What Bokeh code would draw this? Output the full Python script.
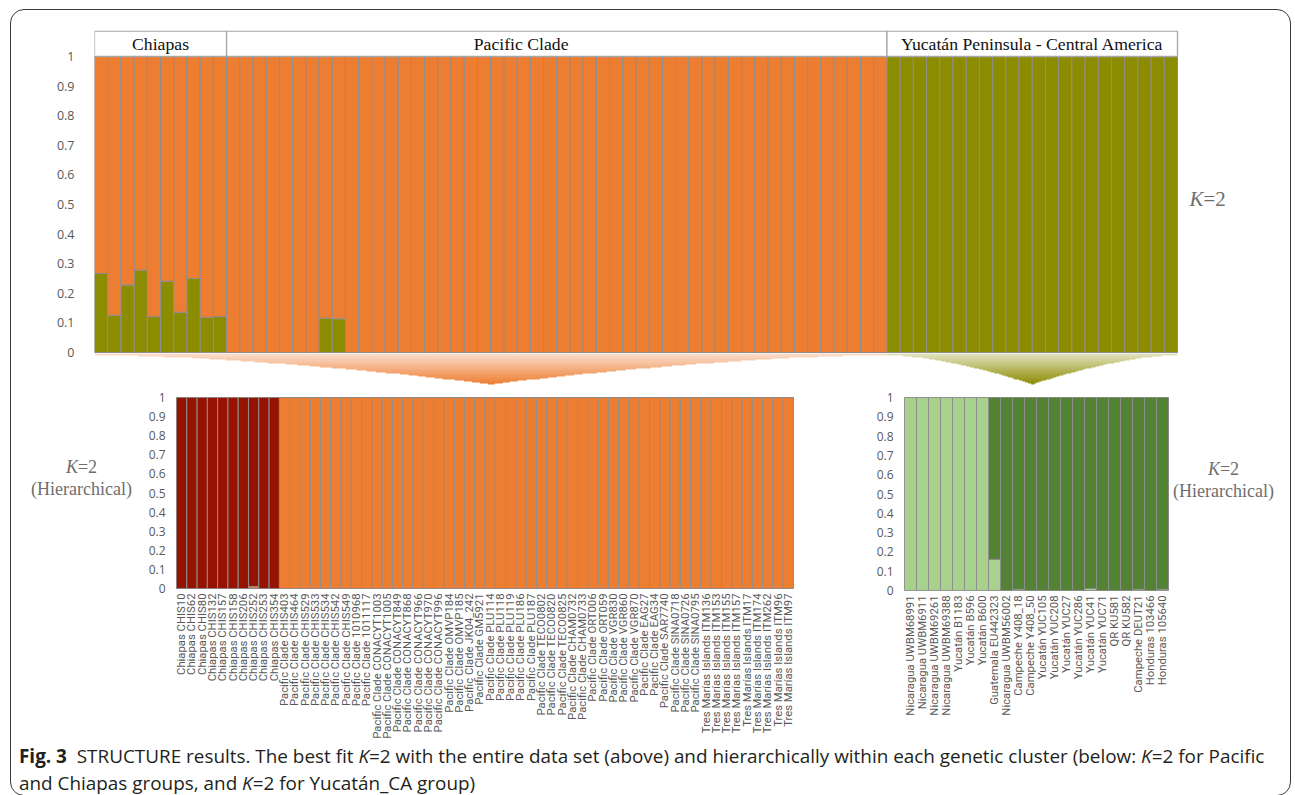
import numpy as np
from bokeh.plotting import figure
from bokeh.models import Range1d, FactorRange, FixedTicker, ColumnDataSource, Div, InlineStyleSheet
from bokeh.layouts import column, row
from bokeh.core.properties import value
from bokeh.embed import file_html
from bokeh.resources import INLINE

# ---------------- data ----------------
groups = ["Chiapas", "Pacific Clade", "Yucatán Peninsula - Central America"]
group_sizes = [10, 50, 22]
group_label_pos = [5.0, 32.3, 71.0]

top_green_chiapas = [0.267, 0.125, 0.228, 0.278, 0.121, 0.241, 0.136, 0.25, 0.119, 0.121]
top_green_pacific = [0, 0, 0, 0, 0, 0, 0, 0.116, 0.114, 0,
                     0, 0, 0, 0, 0, 0, 0, 0, 0, 0,
                     0, 0, 0, 0, 0, 0, 0, 0, 0, 0,
                     0, 0, 0, 0, 0, 0, 0, 0, 0, 0,
                     0, 0, 0, 0, 0, 0, 0, 0, 0, 0]
top_green_yucatan = [1, 1, 1, 1, 1, 1, 1, 1, 1, 1, 1,
                     1, 1, 1, 1, 1, 1, 1, 1, 1, 1, 1]

bl_labels = ["Chiapas CHIS10", "Chiapas CHIS62", "Chiapas CHIS80", "Chiapas CHIS132",
             "Chiapas CHIS157", "Chiapas CHIS158", "Chiapas CHIS206", "Chiapas CHIS252",
             "Chiapas CHIS253", "Chiapas CHIS354",
             "Pacific Clade CHIS403", "Pacific Clade CHIS464", "Pacific Clade CHIS529",
             "Pacific Clade CHIS533", "Pacific Clade CHIS534", "Pacific Clade CHIS542",
             "Pacific Clade CHIS549", "Pacific Clade 1010968", "Pacific Clade 1011117",
             "Pacific Clade CONACYT1003", "Pacific Clade CONACYT1005", "Pacific Clade CONACYT849",
             "Pacific Clade CONACYT868", "Pacific Clade CONACYT966", "Pacific Clade CONACYT970",
             "Pacific Clade CONACYT996", "Pacific Clade OMVP184", "Pacific Clade OMVP185",
             "Pacific Clade JK04_242", "Pacific Clade GM5921", "Pacific Clade PLU114",
             "Pacific Clade PLU118", "Pacific Clade PLU119", "Pacific Clade PLU186",
             "Pacific Clade PLU187", "Pacific Clade TECO0802", "Pacific Clade TECO0820",
             "Pacific Clade TECO0825", "Pacific Clade CHAM0732", "Pacific Clade CHAM0733",
             "Pacific Clade ORT006", "Pacific Clade ORT059", "Pacific Clade VGR830",
             "Pacific Clade VGR860", "Pacific Clade VGR870", "Pacific Clade EAG27",
             "Pacific Clade EAG34", "Pacific Clade SAR7740", "Pacific Clade SINA0718",
             "Pacific Clade SINA0726", "Pacific Clade SINA0795",
             "Tres Marías Islands ITM136", "Tres Marías Islands ITM153", "Tres Marías Islands ITM155",
             "Tres Marías Islands ITM157", "Tres Marías Islands ITM17", "Tres Marías Islands ITM174",
             "Tres Marías Islands ITM262", "Tres Marías Islands ITM96", "Tres Marías Islands ITM97"]
bl_orange = [0, 0, 0, 0, 0, 0, 0, 0.01, 0, 0,
             1, 1, 1, 1, 1, 1, 1, 1, 1, 1,
             1, 1, 1, 1, 1, 1, 1, 1, 1, 1,
             1, 1, 1, 1, 1, 1, 1, 1, 1, 1,
             1, 1, 1, 1, 1, 1, 1, 1, 1, 1,
             1, 1, 1, 1, 1, 1, 1, 1, 1, 1]

br_labels = ["Nicaragua UWBM68991", "Nicaragua UWBM6911", "Nicaragua UWBM69261",
             "Nicaragua UWBM69388", "Yucatán B1183", "Yucatán B596", "Yucatán B600",
             "Guatemala EU442323", "Nicaragua UWBM56002", "Campeche Y408_18",
             "Campeche Y408_50", "Yucatán YUC105", "Yucatán YUC208", "Yucatán YUC27",
             "Yucatán YUC286", "Yucatán YUC41", "Yucatán YUC71", "QR KU581", "QR KU582",
             "Campeche DEUT21", "Honduras 103466", "Honduras 105640"]
br_light = [1, 1, 1, 1, 1, 1, 1, 0.161, 0, 0.006, 0, 0, 0, 0, 0, 0.01, 0, 0, 0, 0.006, 0, 0.006]

tick_labels = ["0", "0.1", "0.2", "0.3", "0.4", "0.5", "0.6", "0.7", "0.8", "0.9", "1"]

# ---------------- styles ----------------
ORANGE = "#ED7D31"
OLIVE = "#8C8C00"
DARKRED = "#951300"
LIGHTGREEN = "#A9D18E"
DARKGREEN = "#548235"
BAR_LINE = "#8E8E8E"
TICK_COLOR = "#595959"
TICK_FONT = "Open Sans"
SERIF = "Liberation Serif"
ticks = [float(t) for t in tick_labels]
overrides = {float(t): t for t in tick_labels}

# ---------------- top chart ----------------
top_green = top_green_chiapas + top_green_pacific + top_green_yucatan
n_top = len(top_green)
top_src = ColumnDataSource(dict(
    x=np.arange(n_top) + 0.5,
    green=top_green,
    orange=[1 - g for g in top_green],
))

px_per_bar = 1083 / n_top
frame_w = 1190
frame_h = 356
unit_h = 296
y_top = 1 + 26 / unit_h
y_bot = -(frame_h - 26 - unit_h) / unit_h

p = figure(width=83 + frame_w + 4, height=20 + frame_h,
           frame_width=frame_w, frame_height=frame_h,
           x_range=Range1d(0, frame_w / px_per_bar), y_range=Range1d(y_bot, y_top),
           x_axis_type=None, output_backend="svg", toolbar_location=None,
           min_border_left=83, min_border_right=4, min_border_top=20, min_border_bottom=0)
p.border_fill_color = None
p.outline_line_color = None
p.grid.grid_line_color = None
p.yaxis.ticker = FixedTicker(ticks=ticks)
p.yaxis.major_label_overrides = overrides
p.yaxis.axis_line_color = None
p.yaxis.major_tick_line_color = None
p.yaxis.minor_tick_line_color = None
p.yaxis.major_tick_out = 0
p.yaxis.major_tick_in = 0
p.yaxis.major_label_standoff = 20
p.yaxis.major_label_text_font = TICK_FONT
p.yaxis.major_label_text_font_size = "12.5px"
p.yaxis.major_label_text_color = TICK_COLOR

p.vbar_stack(["green", "orange"], x="x", width=1.0, source=top_src,
             fill_color=[OLIVE, ORANGE], line_color=BAR_LINE, line_width=1)

# header band
starts = np.cumsum([0] + group_sizes[:-1])
ends = np.cumsum(group_sizes)
p.quad(left=starts, right=ends, bottom=1.0, top=y_top - 0.002,
       fill_color="white", line_color="#A6A6A6", line_width=1.3)
p.text(x=group_label_pos, y=[1 + 13 / unit_h] * 3, text=groups,
       text_font=value(SERIF), text_font_size="17.7px", text_color="#111111",
       text_align="center", text_baseline="middle")

# K=2 label
kx = (1190 - 95) / px_per_bar
p.text(x=[kx], y=[0.52], text=["K"], text_font=value(SERIF), text_font_style="italic",
       text_font_size="21px", text_color="#6E6E6E", text_baseline="middle")
p.text(x=[kx + 14 / px_per_bar], y=[0.52], text=["=2"], text_font=value(SERIF),
       text_font_size="21px", text_color="#6E6E6E", text_baseline="middle")

# gradient wedges linking top chart to the hierarchical charts
def wedge(x0, x1, depth, rgb, nx=700, ny=70):
    xt = (x0 + x1) / 2
    xs = np.linspace(x0, x1, nx)
    ys = np.linspace(-depth, 0, ny)
    X, Y = np.meshgrid(xs, ys)
    hw = np.where(X < xt, xt - x0, x1 - xt)
    f = np.clip(1 - np.abs(X - xt) / hw, 0, 1) ** 1.6
    bound = -0.008 - (depth - 0.008) * f
    inside = (Y >= bound) & (Y <= -0.004)
    t = np.clip(-Y / depth, 0, 1)
    alpha = (0.22 + 0.78 * t) * inside
    img = np.zeros((ny, nx), dtype=np.uint32)
    view = img.view(dtype=np.uint8).reshape((ny, nx, 4))
    view[..., 0] = rgb[0]
    view[..., 1] = rgb[1]
    view[..., 2] = rgb[2]
    view[..., 3] = (alpha * 255).astype(np.uint8)
    return img

depth = 32 / unit_h
p.image_rgba(image=[wedge(0, 60, depth, (237, 125, 49))], x=0, y=-depth, dw=60, dh=depth)
p.image_rgba(image=[wedge(60, 82, depth, (139, 139, 0))], x=60, y=-depth, dw=22, dh=depth)

# ---------------- bottom-left chart ----------------
bl_src = ColumnDataSource(dict(label=bl_labels, orange=bl_orange,
                               red=[1 - v for v in bl_orange]))
bl = figure(x_range=FactorRange(factors=bl_labels), y_range=Range1d(0, 1),
            frame_width=617, frame_height=191, width=30 + 617 + 80, height=11 + 191 + 145,
            min_border_left=30, min_border_right=80, min_border_top=11, min_border_bottom=145,
            output_backend="svg", toolbar_location=None)
bl.vbar_stack(["orange", "red"], x="label", width=1.0, source=bl_src,
              fill_color=[ORANGE, DARKRED], line_color=BAR_LINE, line_width=1)

# ---------------- bottom-right chart ----------------
br_src = ColumnDataSource(dict(label=br_labels, light=br_light,
                               dark=[1 - v for v in br_light]))
br = figure(x_range=FactorRange(factors=br_labels), y_range=Range1d(0, 1),
            frame_width=264, frame_height=193, width=30 + 264 + 5, height=11 + 193 + 143,
            min_border_left=30, min_border_right=5, min_border_top=11, min_border_bottom=143,
            output_backend="svg", toolbar_location=None)
br.vbar_stack(["light", "dark"], x="label", width=1.0, source=br_src,
              fill_color=[LIGHTGREEN, DARKGREEN], line_color=BAR_LINE, line_width=1)

for f in (bl, br):
    f.border_fill_color = None
    f.outline_line_color = BAR_LINE
    f.grid.grid_line_color = None
    f.yaxis.ticker = FixedTicker(ticks=ticks)
    f.yaxis.major_label_overrides = overrides
    f.yaxis.axis_line_color = None
    f.yaxis.major_tick_line_color = None
    f.yaxis.minor_tick_line_color = None
    f.yaxis.major_tick_out = 0
    f.yaxis.major_tick_in = 0
    f.yaxis.major_label_standoff = 11
    f.yaxis.major_label_text_font = TICK_FONT
    f.yaxis.major_label_text_font_size = "12px"
    f.yaxis.major_label_text_color = TICK_COLOR
    f.xaxis.axis_line_color = None
    f.xaxis.major_tick_line_color = None
    f.xaxis.major_tick_out = 0
    f.xaxis.major_tick_in = 0
    f.xaxis.major_label_orientation = np.pi / 2
    f.xaxis.major_label_standoff = 5
    f.xaxis.major_label_text_font = "Roboto"
    f.xaxis.major_label_text_font_size = "11.3px"
    f.xaxis.major_label_text_color = TICK_COLOR

lbl_css = (f"font-family:'{SERIF}'; font-size:18px; line-height:22px; color:#6E6E6E; "
           "text-align:center;")
left_div = Div(text=f"<div style=\"{lbl_css} padding-top:70px; padding-left:20px;\">"
                    "<i>K</i>=2<br>(Hierarchical)</div>", width=134, height=347, margin=0)
right_div = Div(text=f"<div style=\"{lbl_css} padding-top:72px;\">"
                     "<i>K</i>=2<br>(Hierarchical)</div>", width=117, height=347, margin=0)

cap_css = ("font-family:'Open Sans'; font-size:18.9px; line-height:27px; color:#231F20; "
           "padding-left:8px; padding-top:2px; white-space:nowrap;")
caption = Div(
    text=(f"<div style=\"{cap_css}\"><b>Fig. 3</b>&nbsp;&nbsp;STRUCTURE results. The best fit "
          "<i>K</i>=2 with the entire data set (above) and hierarchically within each genetic "
          "cluster (below: <i>K</i>=2 for Pacific<br>"
          "and Chiapas groups, and <i>K</i>=2 for Yucatán_CA group)</div>"),
    width=1270, height=54, margin=0)

frame_css = InlineStyleSheet(css=":host { margin-left: 10px; margin-top: 9px; "
                                 "border: 1.6px solid #3A3A3A; border-radius: 14px; }")
layout = column(p, row(left_div, bl, br, right_div), caption, stylesheets=[frame_css])

open("out.html", "w").write(file_html(layout, INLINE))
